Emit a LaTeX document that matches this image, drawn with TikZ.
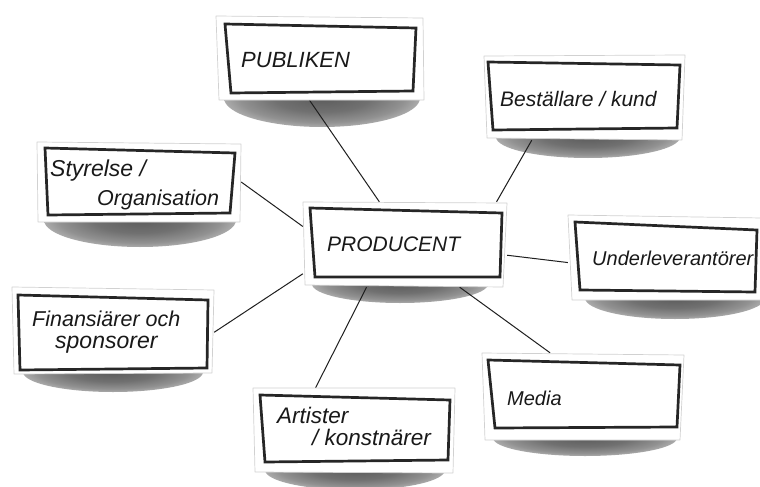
\documentclass[tikz,border=0pt]{standalone}
\usepackage{fontspec}
\setmainfont{Liberation Sans}
\begin{document}
% soft grey shadow under each paper card: dark in the middle, lighter at the rim
\pgfdeclareradialshading{papershadow}{\pgfpoint{0bp}{0bp}}{%
  color(0bp)=(black!64); color(12bp)=(black!56); color(21bp)=(black!43);
  color(25bp)=(black!33); color(50bp)=(black!33)}
\begin{tikzpicture}[x=1pt,y=-1pt,
  paper/.style={fill=white, draw=black!18, line width=0.7pt, line join=round},
  frame/.style={draw=black!85, line width=2.7pt, line join=miter},
  cardshadow/.style={shading=papershadow},
  hand/.style={font=\itshape\fontsize{21}{24}\selectfont, inner sep=0pt,
    anchor=base west, text=black!90},
  slot/.style={draw=none, inner sep=0pt, rectangle},
  link/.style={draw=black!88, line width=1pt},
]
\useasboundingbox (0,0) rectangle (760,487);
\fill[white] (0,0) rectangle (760,487);

% invisible boxes that the connectors attach to
\node[slot, minimum width=208pt, minimum height=84pt] (pub)  at (320,58)    {};
\node[slot, minimum width=204pt, minimum height=85pt] (prod) at (405,244.5) {};
\node[slot, minimum width=204pt, minimum height=80pt] (sty)  at (139,182)   {};
\node[slot, minimum width=201pt, minimum height=85pt] (bes)  at (584.5,97.5){};
\node[slot, minimum width=192pt, minimum height=85pt] (und)  at (664,257.5) {};
\node[slot, minimum width=202pt, minimum height=87pt] (fin)  at (113,330.5) {};
\node[slot, minimum width=202pt, minimum height=87pt] (med)  at (583,396.5) {};
\node[slot, minimum width=202pt, minimum height=85pt] (art)  at (354,430.5) {};

% shadows
\path[cardshadow] (322,98)  ellipse [x radius=98, y radius=29];
\path[cardshadow] (400,284) ellipse [x radius=88, y radius=19];
\path[cardshadow] (140,220) ellipse [x radius=96, y radius=27];
\path[cardshadow] (588,137) ellipse [x radius=92, y radius=21];
\path[cardshadow] (675,298) ellipse [x radius=90, y radius=21];
\path[cardshadow] (113,372) ellipse [x radius=90, y radius=20];
\path[cardshadow] (585,438) ellipse [x radius=92, y radius=18];
\path[cardshadow] (355,470) ellipse [x radius=90, y radius=20];

% connectors
\draw[link] (pub.-104.3) -- (prod.121.7);
\draw[link] (bes.-141.2) -- (prod.25.1);
\draw[link] (sty.0.3)    -- (prod.170.4);
\draw[link] (prod.-6.9)  -- (und.-177.1);
\draw[link] (fin.-1.2)   -- (prod.-164.4);
\draw[link] (prod.-38.7) -- (med.127.9);
\draw[link] (prod.-132.2) -- (art.132.5);

% paper cards with their hand-drawn frames
\path[paper] (216,16) -- (423,18) -- (424,100) -- (219,100) -- cycle;
\path[frame] (225,24) -- (416,28) -- (413,91) -- (231,93) -- cycle;

\path[paper] (303,202) -- (507,203) -- (503,287) -- (305,285) -- cycle;
\path[frame] (310,208) -- (502,213) -- (500,277) -- (315,277) -- cycle;

\path[paper] (37,142) -- (241,144) -- (240,222) -- (38,222) -- cycle;
\path[frame] (45,148) -- (235,153) -- (230,213) -- (48,215) -- cycle;

\path[paper] (484,56) -- (685,55) -- (682,140) -- (487,138) -- cycle;
\path[frame] (488,62) -- (680,65) -- (677,128) -- (493,130) -- cycle;

\path[paper] (568,215) -- (762,218) -- (762,300) -- (572,300) -- cycle;
\path[frame] (575,222) -- (757,230) -- (755,292) -- (580,290) -- cycle;

\path[paper] (12,287) -- (214,290) -- (212,373) -- (14,374) -- cycle;
\path[frame] (18,295) -- (208,300) -- (207,368) -- (20,370) -- cycle;

\path[paper] (482,353) -- (684,355) -- (680,440) -- (485,440) -- cycle;
\path[frame] (488,360) -- (680,365) -- (677,427) -- (495,428) -- cycle;

\path[paper] (253,388) -- (455,388) -- (453,473) -- (255,472) -- cycle;
\path[frame] (260,395) -- (450,400) -- (448,460) -- (265,462) -- cycle;

% labels
\node[hand, font=\itshape\fontsize{22}{24}\selectfont] (tpub) at (241,67) {PUBLIKEN};
\node[hand] (tprod) at (327,251.5) {PRODUCENT};
\node[hand, font=\itshape\fontsize{23}{24}\selectfont] (tsty1) at (50,176.5) {Styrelse /};
\node[hand, font=\itshape\fontsize{21.5}{24}\selectfont] (tsty2) at (97,205) {Organisation};
\node[hand] (tbes) at (500,106.5) {Beställare / kund};
\node[hand, font=\itshape\fontsize{20}{24}\selectfont] (tund) at (592,265) {Underleverantörer};
\node[hand, font=\itshape\fontsize{21.5}{24}\selectfont] (tfin1) at (32,326.5) {Finansiärer och};
\node[hand, font=\itshape\fontsize{23}{24}\selectfont] (tfin2) at (55,348) {sponsorer};
\node[hand, font=\itshape\fontsize{20}{24}\selectfont] (tmed) at (507,405) {Media};
\node[hand, font=\itshape\fontsize{22.5}{24}\selectfont] (tart1) at (277,423.5) {Artister};
\node[hand, font=\itshape\fontsize{22.5}{24}\selectfont] (tart2) at (312,445) {/ konstnärer};
\end{tikzpicture}
\end{document}
